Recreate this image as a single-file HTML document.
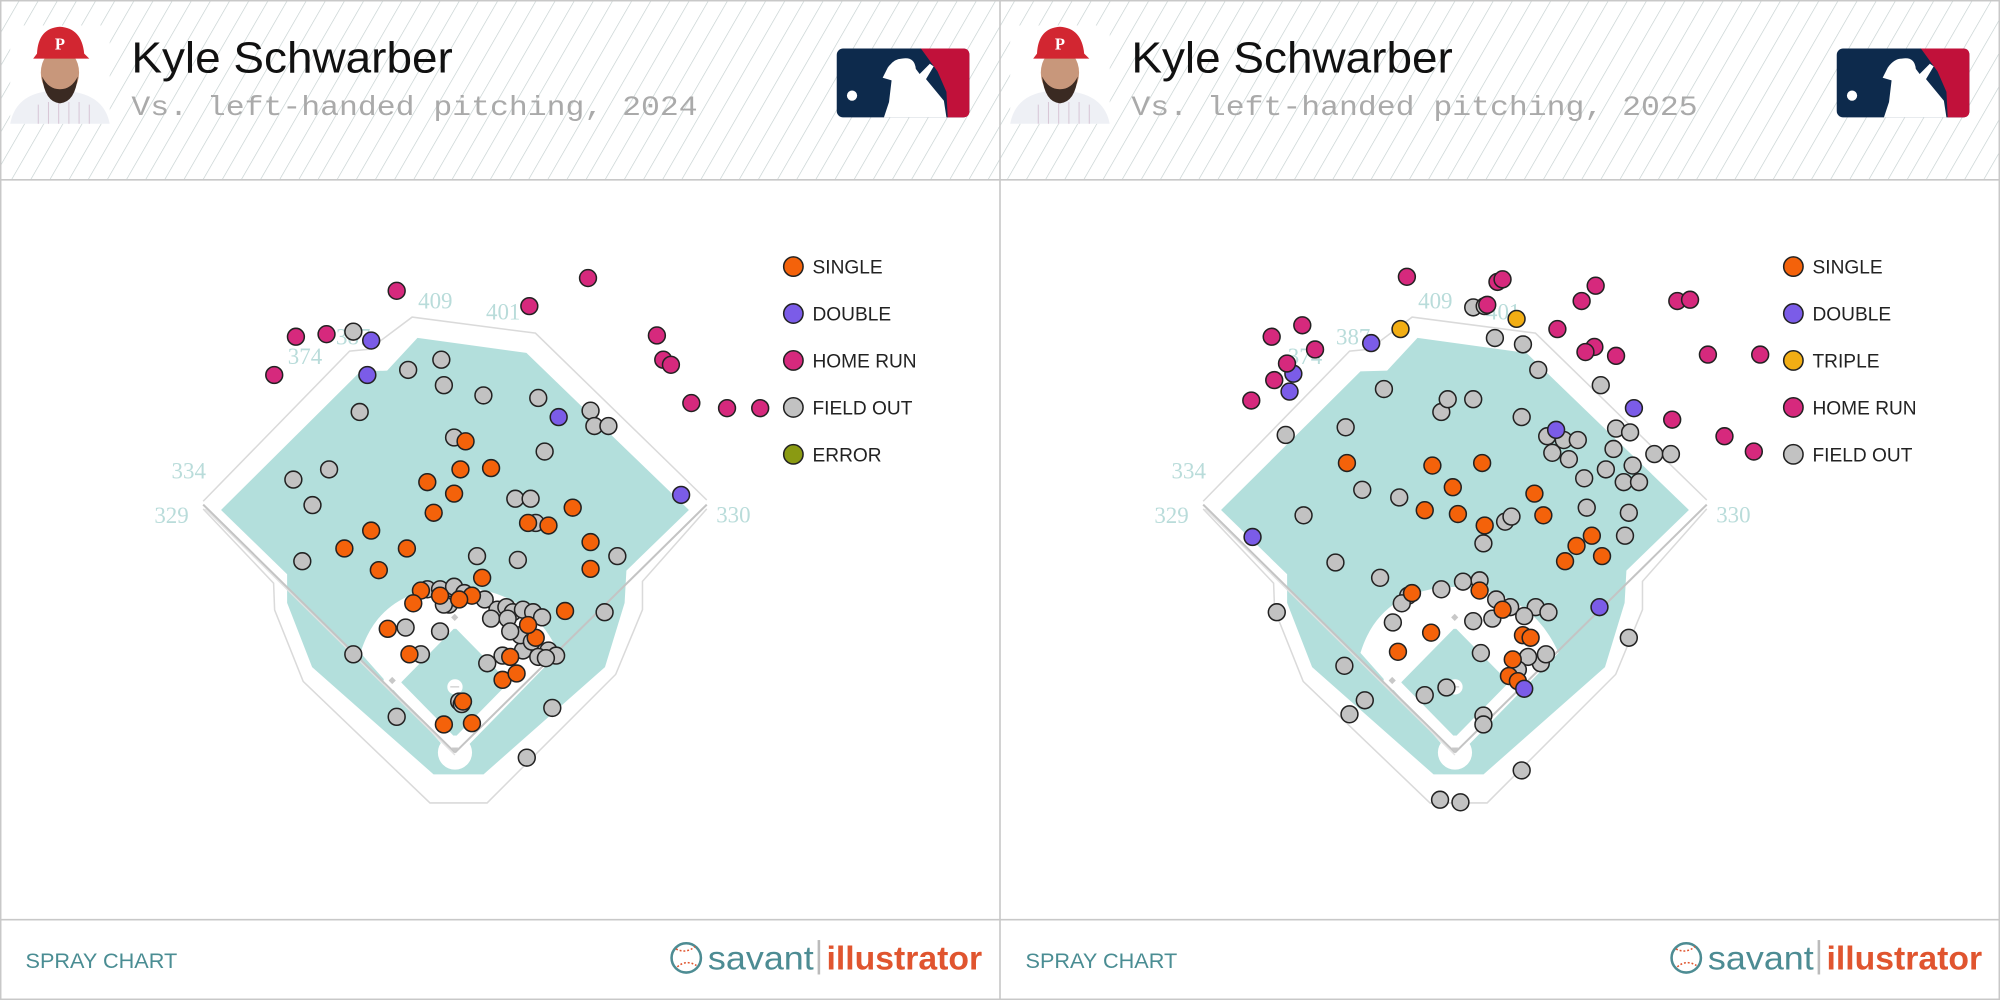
<!DOCTYPE html>
<html><head><meta charset="utf-8"><style>
html,body{margin:0;padding:0;background:#fff;width:2000px;height:1000px;overflow:hidden}
svg{display:block}
</style></head><body>
<svg id="s" width="2000" height="1000" viewBox="0 0 1568 784" xmlns="http://www.w3.org/2000/svg">
<defs>
<pattern id="hatch" patternUnits="userSpaceOnUse" width="13" height="13" patternTransform="rotate(30)">
<line x1="0" y1="0" x2="0" y2="13" stroke="#c2cece" stroke-width="1"/>
</pattern>
<g id="field">
<polygon points="173.3,399.8 282.6,291.2 303.5,290.6 327.3,264.9 412.7,276.7 540.1,399.8 491.1,447.4 489.7,472.7 474.3,523 379.1,607.1 339.9,607.1 244.7,523 225.1,472.7 225.1,450.2" fill="#b3dfdc"/>
<polyline points="159.3,393 274.1,275.3 289.5,273.8 323.1,248.6 419.8,261.2 554.1,392" fill="none" stroke="#dadada" stroke-width="1.2"/>
<polyline points="159.3,399 214.5,457.2 215.3,478.2 237.7,534.2 337.1,629.5 381.9,629.5 482.7,528.7 503.7,478 503.7,455.8 554.1,399" fill="none" stroke="#dadada" stroke-width="1.2"/>
<path d="M282.6,511.9 Q297.9,461.5 356.7,460.1 Q415.5,461.5 437.9,511.9 L356.7,595 Z" fill="#fff"/>
<polygon points="356.7,492 399,535 356.7,578 314.5,535" fill="#b3dfdc"/>
<circle cx="356.7" cy="590" r="13.4" fill="#fff"/>
<circle cx="356.7" cy="538.5" r="6" fill="#fff"/>
<circle cx="307.7" cy="534" r="7" fill="#fff"/>
<circle cx="356.7" cy="487" r="6" fill="#fff"/>
<line x1="159.3" y1="395.6" x2="356.7" y2="590" stroke="#c4c4c4" stroke-width="1.6"/>
<line x1="554.1" y1="395.6" x2="356.7" y2="590" stroke="#c4c4c4" stroke-width="1.6"/>
<line x1="161" y1="399" x2="356.7" y2="592" stroke="#e2e2e2" stroke-width="1"/>
<rect x="354.5" y="482" width="4" height="4" fill="#c8c8c8" transform="rotate(45 356.5 484)"/>
<rect x="305.5" y="531.5" width="4" height="4" fill="#c8c8c8" transform="rotate(45 307.5 533.5)"/>
<line x1="353" y1="538.5" x2="360" y2="538.5" stroke="#ccc" stroke-width="1"/>
<polygon points="354,586 359.4,586 356.7,590" fill="#c8c8c8"/>
<g font-family="Liberation Serif, serif" font-size="18" fill="#b9dcda" text-anchor="middle">
<text x="341.3" y="242">409</text><text x="394.5" y="250.5">401</text>
<text x="276.9" y="270">387</text><text x="239.1" y="285.5">374</text>
<text x="148" y="375">334</text><text x="134.5" y="410">329</text><text x="575" y="409.5">330</text>
</g>
</g>
<g id="mlb">
<rect x="656" y="38" width="104" height="54" rx="5" fill="#0d2a4c"/>
<path d="M722,38 L755,38 Q760,38 760,43 L760,87 Q760,92 755,92 L743,92 L742,72 L735,56 L722,38Z" fill="#c1113a"/>
<path d="M707,46 Q717,44 718,54 L721,58 L729,50 L732,52 L726,62 L740,79 L742,92 L693,92 L697,80 L699,63 L692,61 L696,53 Q701,46 707,46Z" fill="#fff"/>
<circle cx="668" cy="75" r="4" fill="#fff"/>
</g>
<g id="head">
<rect x="8" y="20" width="78" height="77" fill="#fff"/>
<path d="M8,97 Q12,76 34,72 L58,72 Q82,76 86,97Z" fill="#eef0f5"/>
<path d="M30,82 L30,97 M38,80 L38,97 M46,80 L46,97 M54,80 L54,97 M62,80 L62,97 M70,82 L70,97" stroke="#d8c6d6" stroke-width="0.8"/>
<ellipse cx="47" cy="57" rx="15" ry="19" fill="#c8977b"/>
<path d="M33,60 Q35,80 47,81 Q59,80 61,60 Q56,70 47,70 Q38,70 33,60Z" fill="#3a2a22"/>
<path d="M29,42 Q30,22 47,21 Q64,22 66,42 L70,46 L26,46Z" fill="#d22631"/>
<text x="47" y="39" font-family="Liberation Serif,serif" font-size="13" font-weight="bold" fill="#fff" text-anchor="middle">P</text>
</g>
<g id="savant">
<circle cx="538" cy="751" r="11.5" fill="#fff" stroke="#4d8c93" stroke-width="2"/>
<path d="M530,744 Q538,748 545,742 M531,758 Q538,752 546,757" stroke="#e0552f" stroke-width="1.2" fill="none" stroke-dasharray="1.5 1.5"/>
<text x="555" y="760" font-family="Liberation Sans,sans-serif" font-size="26" fill="#4d8c93" textLength="83" lengthAdjust="spacingAndGlyphs">savant</text>
<rect x="641" y="737" width="2" height="27" fill="#bbb"/>
<text x="648" y="760" font-family="Liberation Sans Narrow,Liberation Sans,sans-serif" font-size="26" font-weight="bold" fill="#e0552f" textLength="122" lengthAdjust="spacingAndGlyphs">illustrator</text>
</g>
</defs>
<rect x="0" y="0" width="1568" height="141" fill="url(#hatch)"/>
<line x1="0" y1="141" x2="1568" y2="141" stroke="#c8c8c8" stroke-width="1.3"/>
<line x1="0" y1="721" x2="1568" y2="721" stroke="#c8c8c8" stroke-width="1.3"/>
<rect x="0.5" y="0.5" width="1567" height="783" fill="none" stroke="#c8c8c8" stroke-width="1.3"/>
<line x1="784" y1="0" x2="784" y2="784" stroke="#c8c8c8" stroke-width="1.3"/>
<use href="#field"/><use href="#field" x="784"/>
<use href="#mlb"/><use href="#mlb" x="784"/>
<use href="#head"/><use href="#head" x="784"/>
<use href="#savant"/><use href="#savant" x="784"/>
<g font-family="Liberation Sans,sans-serif">
<text x="103" y="57" font-size="34" fill="#111" textLength="252" lengthAdjust="spacingAndGlyphs">Kyle Schwarber</text>
<text x="887" y="57" font-size="34" fill="#111" textLength="252" lengthAdjust="spacingAndGlyphs">Kyle Schwarber</text>
<text x="103" y="90" font-family="Liberation Mono,monospace" font-size="22" fill="#aaa" textLength="444" lengthAdjust="spacingAndGlyphs">Vs. left-handed pitching, 2024</text>
<text x="887" y="90" font-family="Liberation Mono,monospace" font-size="22" fill="#aaa" textLength="444" lengthAdjust="spacingAndGlyphs">Vs. left-handed pitching, 2025</text>
<text x="20" y="759" font-size="17" fill="#4a8d93">SPRAY CHART</text>
<text x="804" y="759" font-size="17" fill="#4a8d93">SPRAY CHART</text>
</g>
<g id="dots" stroke="#222" stroke-width="1.2"></g>
<g id="leg" font-family="Liberation Sans,sans-serif" font-size="15" fill="#222" stroke="none"></g>
</svg>
<script>
var C={S:"#f4620a",D:"#7b5ce8",T:"#f2ae14",H:"#d6297d",O:"#c2c2c2",E:"#8a9a12"};
var L={
H:[[311,228],[461,218],[415,240],[232,264],[256,262],[215,294],[515,263],[520,282],[526,286],[542,316],[570,320],[596,320]],
D:[[291,267],[288,294],[438,327],[534,388]],
O:[[277,260],[346,282],[320,290],[348,302],[379,310],[422,312],[282,323],[463,322],[466,334],[477,334],[356,343],[427,354],[230,376],[258,368],[245,396],[404,391],[416,391],[420,410],[237,440],[374,436],[406,439],[484,436],[474,480],[277,513],[311,562],[433,555],[413,594],[330,513],[360,550],[382,520],[345,495],[318,492],[394,514],[410,510],[430,510],[436,514]],
S:[[365,346],[385,367],[361,368],[335,378],[340,402],[356,387],[449,398],[414,410],[430,412],[270,430],[291,416],[319,430],[297,447],[463,425],[463,446],[443,479],[304,493],[321,513],[348,568],[370,567],[363,550],[394,533],[405,528],[420,500],[414,490],[330,463],[370,467],[378,453],[360,470],[400,515],[324,473],[345,467]],
O2:[[335,462],[345,462],[356,460],[364,465],[380,470],[390,478],[397,476],[402,480],[410,478],[418,480],[425,484],[352,474],[348,474],[385,485],[398,485],[408,498],[417,503],[422,515],[428,516],[400,495],[362,552]]
};
var R={
D:[[1075,269],[1014,293],[1011,307],[982,421],[1220,337],[1281,320],[1254,476],[1195,540]],
T:[[1098,258],[1189,250]],
H:[[1103,217],[1174,221],[1178,219],[1251,224],[1240,236],[1166,239],[1315,236],[1325,235],[997,264],[1021,255],[1031,274],[1009,285],[999,298],[981,314],[1221,258],[1250,272],[1243,276],[1267,279],[1339,278],[1380,278],[1311,329],[1352,342],[1375,354]],
O:[[1155,241],[1164,240],[1172,265],[1194,270],[1206,290],[1255,302],[1085,305],[1130,323],[1135,313],[1155,313],[1008,341],[1055,335],[1193,327],[1213,342],[1226,345],[1237,345],[1230,360],[1217,355],[1267,336],[1278,339],[1265,352],[1280,365],[1297,356],[1310,356],[1259,368],[1273,378],[1285,378],[1242,375],[1068,384],[1097,390],[1022,404],[1180,409],[1277,402],[1274,420],[1047,441],[1082,453],[1130,462],[1147,456],[1160,455],[1173,470],[1184,476],[1204,476],[1214,480],[1195,483],[1155,487],[1170,485],[1104,467],[1099,473],[1092,488],[1208,520],[1198,515],[1212,513],[1190,525],[1161,512],[1117,545],[1134,539],[1163,561],[1163,568],[1001,480],[1054,522],[1070,549],[1058,560],[1277,500],[1193,604],[1129,627],[1145,629],[1244,398],[1163,426],[1185,405]],
S:[[1056,363],[1123,365],[1162,363],[1139,382],[1117,400],[1143,403],[1164,412],[1203,387],[1210,404],[1248,420],[1236,428],[1256,436],[1227,440],[1107,465],[1122,496],[1096,511],[1160,463],[1178,478],[1194,498],[1200,500],[1186,517],[1183,530],[1190,534]]
};
var g=document.getElementById("dots"),ns="http://www.w3.org/2000/svg";
function dot(x,y,c,r){var e=document.createElementNS(ns,"circle");e.setAttribute("cx",x);e.setAttribute("cy",y);e.setAttribute("r",r||6.6);e.setAttribute("fill",c);g.appendChild(e);}
[["O",L.O],["O",L.O2],["S",L.S],["D",L.D],["H",L.H]].forEach(function(a){a[1].forEach(function(p){dot(p[0],p[1],C[a[0]]);});});
[["O",R.O],["S",R.S],["D",R.D],["T",R.T],["H",R.H]].forEach(function(a){a[1].forEach(function(p){dot(p[0],p[1],C[a[0]]);});});
var lg=document.getElementById("leg");
function leg(x,items){items.forEach(function(it,i){var y=209+i*36.8;dot(x,y,C[it[0]],7.6);var t=document.createElementNS(ns,"text");t.setAttribute("x",x+15);t.setAttribute("y",y+5.5);t.textContent=it[1];lg.appendChild(t);});}
leg(622,[["S","SINGLE"],["D","DOUBLE"],["H","HOME RUN"],["O","FIELD OUT"],["E","ERROR"]]);
leg(1406,[["S","SINGLE"],["D","DOUBLE"],["T","TRIPLE"],["H","HOME RUN"],["O","FIELD OUT"]]);
</script>
</body></html>
